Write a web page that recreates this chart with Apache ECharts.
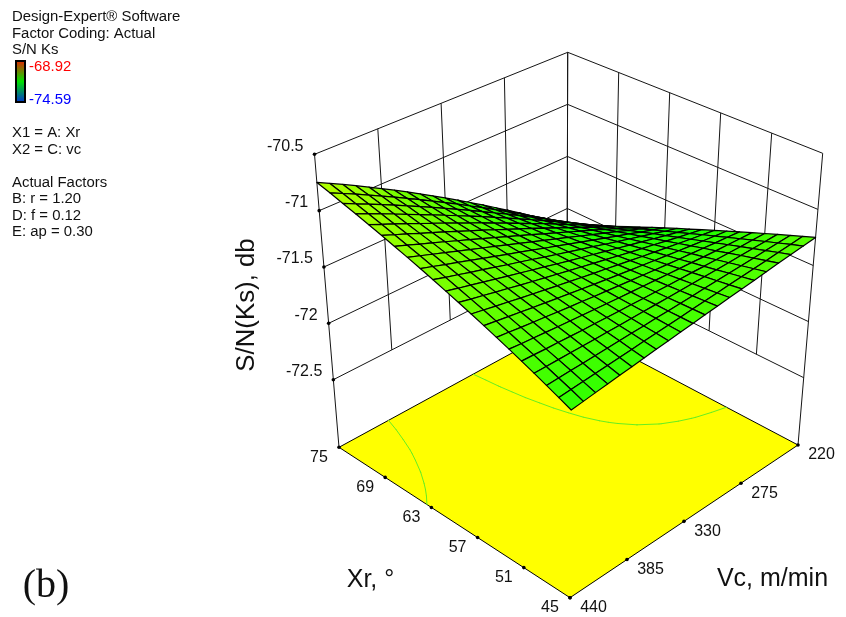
<!DOCTYPE html>
<html><head><meta charset="utf-8">
<style>html,body{margin:0;padding:0;background:#fff}#c{width:846px;height:617px}</style>
<script src="https://cdn.jsdelivr.net/npm/echarts@6/dist/echarts.min.js"></script>
</head><body><div id="c"></div>
<script>
const xrTicks=[75,69,63,57,51,45];
const vcTicks=[220,275,330,385,440];
const snTicks=[-70.5,-71,-71.5,-72,-72.5];
const snTickLabels=['-70.5','-71','-71.5','-72','-72.5'];
const snFloor=-73.1;
const contourLevels=[-71,-71.5];
const colorRange=[-74.59,-68.92];
const xrGrid=[75,73.5,72,70.5,69,67.5,66,64.5,63,61.5,60,58.5,57,55.5,54,52.5,51,49.5,48,46.5,45];
const vcGrid=[440,429,418,407,396,385,374,363,352,341,330,319,308,297,286,275,264,253,242,231,220];
const snByXr=[
[-70.750,-70.805,-70.861,-70.919,-70.979,-71.041,-71.104,-71.168,-71.235,-71.303,-71.373,-71.444,-71.517,-71.591,-71.668,-71.746,-71.825,-71.906,-71.989,-72.074,-72.160],
[-70.780,-70.833,-70.887,-70.943,-71.000,-71.059,-71.118,-71.180,-71.243,-71.308,-71.373,-71.441,-71.508,-71.578,-71.650,-71.723,-71.797,-71.872,-71.950,-72.027,-72.107],
[-70.812,-70.863,-70.914,-70.967,-71.022,-71.077,-71.134,-71.192,-71.252,-71.312,-71.373,-71.436,-71.501,-71.565,-71.632,-71.699,-71.768,-71.838,-71.909,-71.983,-72.056],
[-70.843,-70.892,-70.941,-70.991,-71.044,-71.097,-71.149,-71.204,-71.260,-71.316,-71.373,-71.432,-71.492,-71.552,-71.614,-71.677,-71.740,-71.804,-71.870,-71.937,-72.004],
[-70.876,-70.922,-70.969,-71.017,-71.066,-71.115,-71.164,-71.216,-71.268,-71.320,-71.375,-71.428,-71.484,-71.540,-71.595,-71.654,-71.713,-71.771,-71.832,-71.892,-71.954],
[-70.909,-70.953,-70.997,-71.043,-71.088,-71.133,-71.181,-71.228,-71.275,-71.324,-71.374,-71.424,-71.474,-71.526,-71.579,-71.631,-71.685,-71.739,-71.793,-71.849,-71.904],
[-70.944,-70.984,-71.026,-71.067,-71.109,-71.153,-71.196,-71.240,-71.284,-71.329,-71.374,-71.420,-71.467,-71.513,-71.561,-71.609,-71.656,-71.706,-71.756,-71.805,-71.856],
[-70.978,-71.016,-71.055,-71.093,-71.132,-71.172,-71.212,-71.251,-71.292,-71.333,-71.374,-71.416,-71.458,-71.500,-71.543,-71.586,-71.630,-71.673,-71.718,-71.762,-71.807],
[-71.014,-71.049,-71.085,-71.119,-71.155,-71.191,-71.228,-71.264,-71.300,-71.337,-71.375,-71.412,-71.449,-71.488,-71.526,-71.564,-71.603,-71.641,-71.682,-71.720,-71.760],
[-71.050,-71.083,-71.114,-71.147,-71.178,-71.210,-71.244,-71.275,-71.308,-71.342,-71.375,-71.408,-71.441,-71.474,-71.509,-71.542,-71.576,-71.611,-71.644,-71.680,-71.713],
[-71.088,-71.117,-71.145,-71.173,-71.202,-71.231,-71.259,-71.288,-71.317,-71.347,-71.376,-71.405,-71.433,-71.462,-71.491,-71.521,-71.550,-71.579,-71.609,-71.639,-71.668],
[-71.125,-71.151,-71.175,-71.201,-71.225,-71.251,-71.276,-71.300,-71.325,-71.350,-71.375,-71.400,-71.424,-71.449,-71.475,-71.499,-71.523,-71.549,-71.573,-71.598,-71.622],
[-71.164,-71.185,-71.208,-71.228,-71.250,-71.271,-71.292,-71.313,-71.333,-71.354,-71.376,-71.395,-71.416,-71.437,-71.458,-71.478,-71.498,-71.518,-71.539,-71.558,-71.578],
[-71.203,-71.221,-71.239,-71.256,-71.274,-71.290,-71.308,-71.325,-71.342,-71.359,-71.375,-71.392,-71.408,-71.424,-71.441,-71.456,-71.472,-71.488,-71.504,-71.519,-71.534],
[-71.244,-71.257,-71.272,-71.285,-71.297,-71.312,-71.325,-71.337,-71.351,-71.363,-71.375,-71.388,-71.400,-71.412,-71.424,-71.436,-71.446,-71.458,-71.470,-71.480,-71.492],
[-71.284,-71.295,-71.304,-71.314,-71.324,-71.332,-71.341,-71.349,-71.358,-71.367,-71.375,-71.383,-71.391,-71.399,-71.407,-71.414,-71.423,-71.430,-71.436,-71.443,-71.449],
[-71.326,-71.331,-71.338,-71.342,-71.348,-71.354,-71.357,-71.363,-71.368,-71.371,-71.376,-71.379,-71.384,-71.387,-71.390,-71.395,-71.397,-71.400,-71.403,-71.405,-71.408],
[-71.368,-71.370,-71.371,-71.371,-71.373,-71.374,-71.374,-71.375,-71.375,-71.375,-71.375,-71.375,-71.375,-71.375,-71.373,-71.374,-71.373,-71.370,-71.370,-71.369,-71.367],
[-71.412,-71.409,-71.405,-71.402,-71.398,-71.395,-71.391,-71.387,-71.384,-71.379,-71.376,-71.371,-71.367,-71.362,-71.357,-71.353,-71.348,-71.343,-71.338,-71.333,-71.328],
[-71.455,-71.447,-71.440,-71.432,-71.424,-71.417,-71.408,-71.400,-71.391,-71.384,-71.375,-71.367,-71.358,-71.350,-71.341,-71.332,-71.324,-71.315,-71.306,-71.297,-71.288],
[-71.500,-71.488,-71.475,-71.462,-71.450,-71.438,-71.425,-71.412,-71.400,-71.388,-71.375,-71.363,-71.350,-71.337,-71.325,-71.313,-71.300,-71.287,-71.275,-71.263,-71.250]
];
const infoLines=[['Design-Expert® Software',17],['Factor Coding: Actual',34],['S/N Ks',50],['X1 = A: Xr',133],['X2 = C: vc',150],['Actual Factors',183],['B: r = 1.20',199],['D: f = 0.12',216],['E: ap = 0.30',232]];

// 3D view: pixel anchors of the eight box corners; positions blend between them
const view={A:[339,447.3],B:[570,597.7],C:[798,445],D:[567,323],At:[314.5,154.3],Bt:[572,292.7],Ct:[822.7,153.3],Dt:[567.7,52.3]};
const xrMax=75,xrMin=45,vcMax=440,vcMin=220,snTop=-70.5;
function project(xr,vc,sn){
  const u=(xrMax-xr)/(xrMax-xrMin),v=(vcMax-vc)/(vcMax-vcMin),t=(sn-snFloor)/(snTop-snFloor);
  const out=[0,0];
  for(let k=0;k<2;k++){
    const lo=(1-u)*(1-v)*view.A[k]+u*(1-v)*view.B[k]+u*v*view.C[k]+(1-u)*v*view.D[k];
    const hi=(1-u)*(1-v)*view.At[k]+u*(1-v)*view.Bt[k]+u*v*view.Ct[k]+(1-u)*v*view.Dt[k];
    out[k]=lo+t*(hi-lo);
  }
  return out;
}

const palette=['#0000ff','#00ffff','#00ff00','#ffff00','#ff0000'];
function snColor(z){
  const t=(z-colorRange[0])/(colorRange[1]-colorRange[0]);
  return echarts.color.lerp(Math.max(0,Math.min(1,t)),palette);
}

// wall lines as pairs of 3D points
const snLowest=snTicks[snTicks.length-1];
const wallData=[];
snTicks.forEach(z=>{
  wallData.push([xrMax,vcMax,z,xrMax,vcMin,z]);
  wallData.push([xrMax,vcMin,z,xrMin,vcMin,z]);
});
vcTicks.forEach(vc=>wallData.push([xrMax,vc,vc===vcMax?snFloor:snLowest,xrMax,vc,snTop]));
xrTicks.forEach(xr=>wallData.push([xr,vcMin,xr===xrMin?snFloor:snLowest,xr,vcMin,snTop]));

// contour segments by marching squares over the table
const contourData=[];
contourLevels.forEach(L=>{
  for(let i=0;i<xrGrid.length-1;i++)for(let j=0;j<vcGrid.length-1;j++){
    const c=[[i,j],[i+1,j],[i+1,j+1],[i,j+1]],pts=[];
    for(let k=0;k<4;k++){
      const p=c[k],q=c[(k+1)%4],a=snByXr[p[0]][p[1]],b=snByXr[q[0]][q[1]];
      if((a>=L)!==(b>=L)){
        const s=(L-a)/(b-a);
        pts.push([xrGrid[p[0]]+s*(xrGrid[q[0]]-xrGrid[p[0]]),vcGrid[p[1]]+s*(vcGrid[q[1]]-vcGrid[p[1]])]);
      }
    }
    if(pts.length>=2)contourData.push([pts[0][0],pts[0][1],pts[1][0],pts[1][1]]);
  }
});

// surface cells, back to front
const cellData=[];
for(let i=0;i<xrGrid.length-1;i++)for(let j=vcGrid.length-2;j>=0;j--)cellData.push([i,j]);

// tick dots
const dotData=[];
snTicks.forEach(z=>dotData.push([xrMax,vcMax,z]));
xrTicks.forEach(xr=>dotData.push([xr,vcMax,snFloor]));
vcTicks.forEach(vc=>dotData.push([xrMin,vc,snFloor]));

const labelFont='16px "Liberation Sans", Arial, sans-serif';
const titleFont='25px "Liberation Sans", Arial, sans-serif';
const labelData=[];
snTicks.forEach((z,i)=>labelData.push({value:[xrMax,vcMax,z,-11,-8],text:snTickLabels[i],align:'right'}));
xrTicks.forEach(xr=>labelData.push({value:[xr,vcMax,snFloor,-20,10],text:String(xr),align:'center'}));
vcTicks.forEach(vc=>labelData.push({value:[xrMin,vc,snFloor,23.5,10],text:String(vc),align:'center'}));

const lineStyle={stroke:'#151515',lineWidth:1};
const series=[
 {type:'custom',coordinateSystem:'none',silent:true,z:1,data:wallData,renderItem:(p,api)=>{
   const a=project(api.value(0),api.value(1),api.value(2)),b=project(api.value(3),api.value(4),api.value(5));
   return {type:'line',shape:{x1:a[0],y1:a[1],x2:b[0],y2:b[1]},style:lineStyle};
 }},
 {type:'custom',coordinateSystem:'none',silent:true,z:2,data:[[0]],renderItem:()=>({
   type:'polygon',
   shape:{points:[[xrMax,vcMax],[xrMin,vcMax],[xrMin,vcMin],[xrMax,vcMin]].map(q=>project(q[0],q[1],snFloor))},
   style:{fill:'#ffff00',stroke:'#000',lineWidth:1}
 })},
 {type:'custom',coordinateSystem:'none',silent:true,z:3,data:contourData,renderItem:(p,api)=>{
   const a=project(api.value(0),api.value(1),snFloor),b=project(api.value(2),api.value(3),snFloor);
   return {type:'line',shape:{x1:a[0],y1:a[1],x2:b[0],y2:b[1]},style:{stroke:'#66ee22',lineWidth:1,lineCap:'round'}};
 }},
 {type:'custom',coordinateSystem:'none',silent:true,z:4,data:cellData,renderItem:(p,api)=>{
   const i=api.value(0),j=api.value(1);
   const c=[[i,j],[i+1,j],[i+1,j+1],[i,j+1]];
   const zs=c.map(q=>snByXr[q[0]][q[1]]);
   const pts=c.map((q,k)=>project(xrGrid[q[0]],vcGrid[q[1]],zs[k]));
   return {type:'polygon',shape:{points:pts},style:{fill:snColor((zs[0]+zs[1]+zs[2]+zs[3])/4),stroke:'#000',lineWidth:1.2,lineJoin:'round'}};
 }},
 {type:'custom',coordinateSystem:'none',silent:true,z:5,data:dotData,renderItem:(p,api)=>{
   const a=project(api.value(0),api.value(1),api.value(2));
   return {type:'circle',shape:{cx:a[0],cy:a[1],r:1.8},style:{fill:'#000'}};
 }},
 {type:'custom',coordinateSystem:'none',silent:true,z:6,data:labelData,renderItem:(p,api)=>{
   const a=project(api.value(0),api.value(1),api.value(2));
   const d=labelData[p.dataIndex];
   return {type:'text',style:{x:a[0]+api.value(3),y:a[1]+api.value(4),text:d.text,font:labelFont,fill:'#111',align:d.align,verticalAlign:'middle'}};
 }}
];

const infoFont='14.9px "Liberation Sans", Arial, sans-serif';
const graphics=infoLines.map(([t,y])=>({type:'text',x:12,y:y,style:{text:t,font:infoFont,fill:'#111',verticalAlign:'middle'}}));
graphics.push(
 {type:'rect',shape:{x:16,y:61,width:9,height:41},style:{stroke:'#000',lineWidth:2,
   fill:{type:'linear',x:0,y:0,x2:0,y2:1,colorStops:[{offset:0,color:'#e82000'},{offset:.5,color:'#00e000'},{offset:1,color:'#0030d8'}]}}},
 {type:'text',x:29,y:67,style:{text:'-68.92',font:infoFont,fill:'#ff0000',verticalAlign:'middle'}},
 {type:'text',x:29,y:100,style:{text:'-74.59',font:infoFont,fill:'#0000ff',verticalAlign:'middle'}},
 {type:'text',x:247,y:305,rotation:Math.PI/2,style:{text:'S/N(Ks), db',font:'25.8px "Liberation Sans", Arial, sans-serif',fill:'#111',align:'center',verticalAlign:'middle'}},
 {type:'text',x:370.5,y:580,style:{text:'Xr, °',font:titleFont,fill:'#111',align:'center',verticalAlign:'middle'}},
 {type:'text',x:772.5,y:579,style:{text:'Vc, m/min',font:titleFont,fill:'#111',align:'center',verticalAlign:'middle'}},
 {type:'text',x:46,y:586,style:{text:'(b)',font:'40px "Liberation Serif", "Times New Roman", serif',fill:'#111',align:'center',verticalAlign:'middle'}}
);
const chart=echarts.init(document.getElementById('c'),null,{renderer:'canvas'});
chart.setOption({animation:false,backgroundColor:'#fff',series:series,graphic:{elements:graphics}});
</script></body></html>
